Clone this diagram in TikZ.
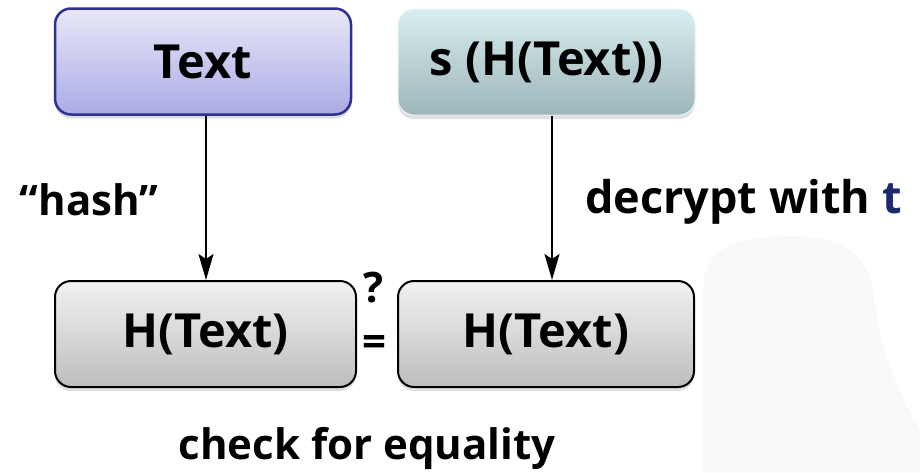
\documentclass[tikz,border=0pt]{standalone}
\usepackage{fontspec}
\setmainfont{Open Sans}
\usetikzlibrary{shadows,arrows.meta}
\definecolor{bluetop}{HTML}{E8E8F8}
\definecolor{bluebot}{HTML}{ABABE6}
\definecolor{blueline}{HTML}{2E3192}
\definecolor{cyantop}{HTML}{D8EEF0}
\definecolor{cyanbot}{HTML}{9CB5B8}
\definecolor{graytop}{HTML}{F2F2F2}
\definecolor{graybot}{HTML}{BDBDBD}
\definecolor{navy}{HTML}{1B2A6B}
\definecolor{ghost}{HTML}{F8F9FB}
\tikzset{
  box/.style={rounded corners=16pt, minimum height=106pt, inner sep=0pt,
    font=\fontsize{47}{52}\selectfont\bfseries,
    drop shadow={shadow xshift=0pt, shadow yshift=-4pt, opacity=0.25}},
  bluebox/.style={box, draw=blueline, line width=2.5pt, top color=bluetop, bottom color=bluebot},
  cyanbox/.style={box, draw=cyantop!60!white, line width=1pt, top color=cyantop, bottom color=cyanbot},
  graybox/.style={box, draw=black, line width=2pt, top color=graytop, bottom color=graybot},
  lbl/.style={font=\fontsize{42}{48}\selectfont\bfseries, inner sep=0pt},
  conn/.style={line width=1.6pt, -{Stealth[length=26pt,width=15pt,inset=5pt]}}
}
\begin{document}
\begin{tikzpicture}[x=1pt,y=-1pt]
\useasboundingbox (0,0) rectangle (920,472);
% faint background silhouette
\fill[ghost] (703,472) -- (703,300) .. controls (700,250) and (730,236) .. (790,236)
  .. controls (850,236) and (870,260) .. (875,300) .. controls (880,360) and (905,400) .. (920,430) -- (920,472) -- cycle;
\node[bluebox, minimum width=296pt] (text) at (203,61.5) {Text};
\node[cyanbox, minimum width=297pt] (sig) at (546.5,62) {s (H(Text))};
\node[graybox, minimum width=301pt] (h1) at (205.5,334) {H(Text)};
\node[graybox, minimum width=296pt] (h2) at (546,334) {H(Text)};
\draw[conn] (text.south -| 206,0) -- (h1.north -| 206,0);
\draw[conn] (sig.south -| 552,0) -- (h2.north -| 552,0);
\node[lbl, anchor=base] (hash) at (89,215) {“hash”};
\node[lbl, anchor=base west, font=\fontsize{45}{50}\selectfont\bfseries] (dec) at (585,213) {decrypt with \textcolor{navy}{t}};
\node[lbl, anchor=base] (q) at (374,302) {?};
\node[lbl] (eq) at (374,345.5) {=};
\node[lbl, anchor=base] (chk) at (367,459) {check for equality};
\end{tikzpicture}
\end{document}
